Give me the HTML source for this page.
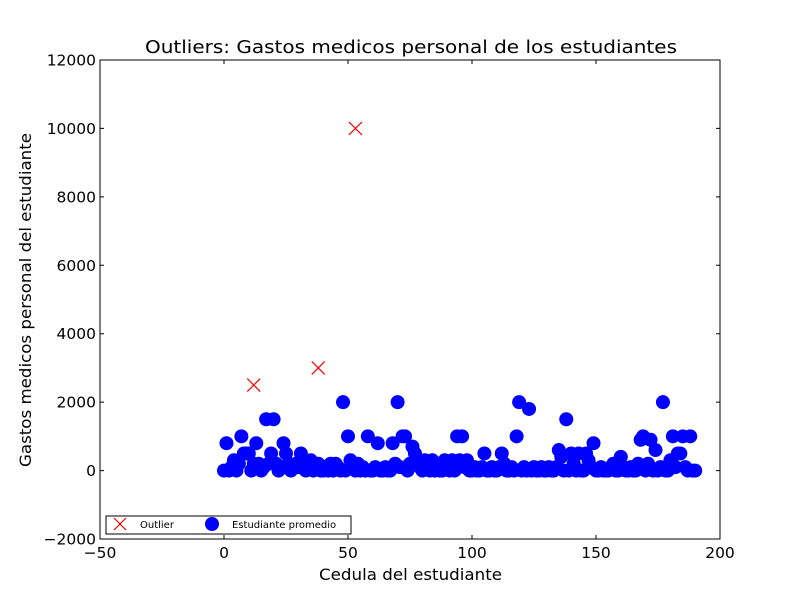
<!DOCTYPE html>
<html><head><meta charset="utf-8"><style>
body{margin:0;background:#fff;}
svg text{font-family:"DejaVu Sans","Liberation Sans",sans-serif;}
</style></head><body>
<svg id="chart" width="800" height="600" xmlns="http://www.w3.org/2000/svg">
<rect width="800" height="600" fill="#fff"/>
<g id="marks"></g>
<rect x="100" y="60" width="620" height="479" fill="none" stroke="#000" stroke-width="1"/>
<g id="axes"></g>
<text x="145" y="53" font-size="18" textLength="532" lengthAdjust="spacingAndGlyphs">Outliers: Gastos medicos personal de los estudiantes</text>
<text x="319" y="580" font-size="16" textLength="183" lengthAdjust="spacingAndGlyphs">Cedula del estudiante</text>
<text transform="translate(31,467) rotate(-90)" font-size="16" textLength="334" lengthAdjust="spacingAndGlyphs">Gastos medicos personal del estudiante</text>
<g>
<rect x="106" y="516" width="245" height="18" fill="#fff" stroke="#000" stroke-width="1"/>
<g>
<path d="M114,518 L126,530 M126,518 L114,530" stroke="red" stroke-width="1.2"/>
<text x="140" y="528" font-size="10">Outlier</text></g>
<g>
<circle cx="212" cy="524" r="7" fill="blue"/>
<text x="232" y="528" font-size="10">Estudiante promedio</text></g>
</g>
</svg>
<script>
const studentValues=[0,800,0,100,300,0,200,1000,500,500,
500,0,200,800,200,0,100,1500,200,500,
1500,200,0,100,800,500,200,0,100,200,
100,500,200,0,100,300,0,100,200,0,
0,100,0,200,0,200,100,0,2000,0,
1000,300,100,0,200,0,100,0,1000,0,
0,100,800,0,0,100,0,0,800,200,
2000,100,1000,1000,0,200,700,500,300,100,
0,300,100,0,300,0,100,0,0,300,
100,0,300,0,1000,300,1000,100,300,0,
0,100,0,0,100,500,0,0,100,0,
0,100,500,200,0,0,100,0,1000,2000,
0,100,0,1800,0,100,0,0,100,0,
0,100,0,0,100,600,400,0,1500,0,
500,200,0,500,0,0,500,300,100,800,
0,0,100,0,0,0,100,200,0,0,
400,100,0,0,100,0,0,200,900,1000,
0,200,900,0,600,0,100,2000,0,0,
300,1000,100,500,500,1000,100,0,1000,0,
0];
const outlierX=[12,38,53];
const outlierY=[2500,3000,10000];
const xTicks=[-50,0,50,100,150,200];
const yTicks=[-2000,0,2000,4000,6000,8000,10000,12000];
const NS="http://www.w3.org/2000/svg";
function sx(v){return 100+(v+50)/250*620;}
function sy(v){return 539-(v+2000)/14000*479;}
const marks=document.getElementById('marks');
const axes=document.getElementById('axes');
studentValues.forEach((v,i)=>{
  const c=document.createElementNS(NS,'circle');
  c.setAttribute('cx',sx(i));c.setAttribute('cy',sy(v));c.setAttribute('r',7);c.setAttribute('fill','blue');
  
  
  marks.appendChild(c);
});
outlierX.forEach((x,i)=>{
  const X=sx(x),Y=sy(outlierY[i]);
  const p=document.createElementNS(NS,'path');
  p.setAttribute('d',`M${X-6.5},${Y-6.5}L${X+6.5},${Y+6.5}M${X+6.5},${Y-6.5}L${X-6.5},${Y+6.5}`);
  p.setAttribute('stroke','red');p.setAttribute('stroke-width','1.2');
  
  
  marks.appendChild(p);
});
xTicks.forEach(t=>{
  const X=sx(t);
  const l=document.createElementNS(NS,'path');
  l.setAttribute('d',`M${X},539v-4M${X},60v4`);l.setAttribute('stroke','#000');
  
  
  axes.appendChild(l);
  const tx=document.createElementNS(NS,'text');
  tx.setAttribute('x',X);tx.setAttribute('y',558);tx.setAttribute('font-size','15.5');tx.setAttribute('text-anchor','middle');
  tx.textContent=(t<0?'\u2212'+(-t):t);
  
  
  axes.appendChild(tx);
});
yTicks.forEach(t=>{
  const Y=sy(t);
  const l=document.createElementNS(NS,'path');
  l.setAttribute('d',`M100,${Y}h4M720,${Y}h-4`);l.setAttribute('stroke','#000');
  
  
  axes.appendChild(l);
  const tx=document.createElementNS(NS,'text');
  tx.setAttribute('x',96);tx.setAttribute('y',Y+5.5);tx.setAttribute('font-size','15.5');tx.setAttribute('text-anchor','end');
  tx.textContent=(t<0?'\u2212'+(-t):t);
  
  
  axes.appendChild(tx);
});
</script>
</body></html>
